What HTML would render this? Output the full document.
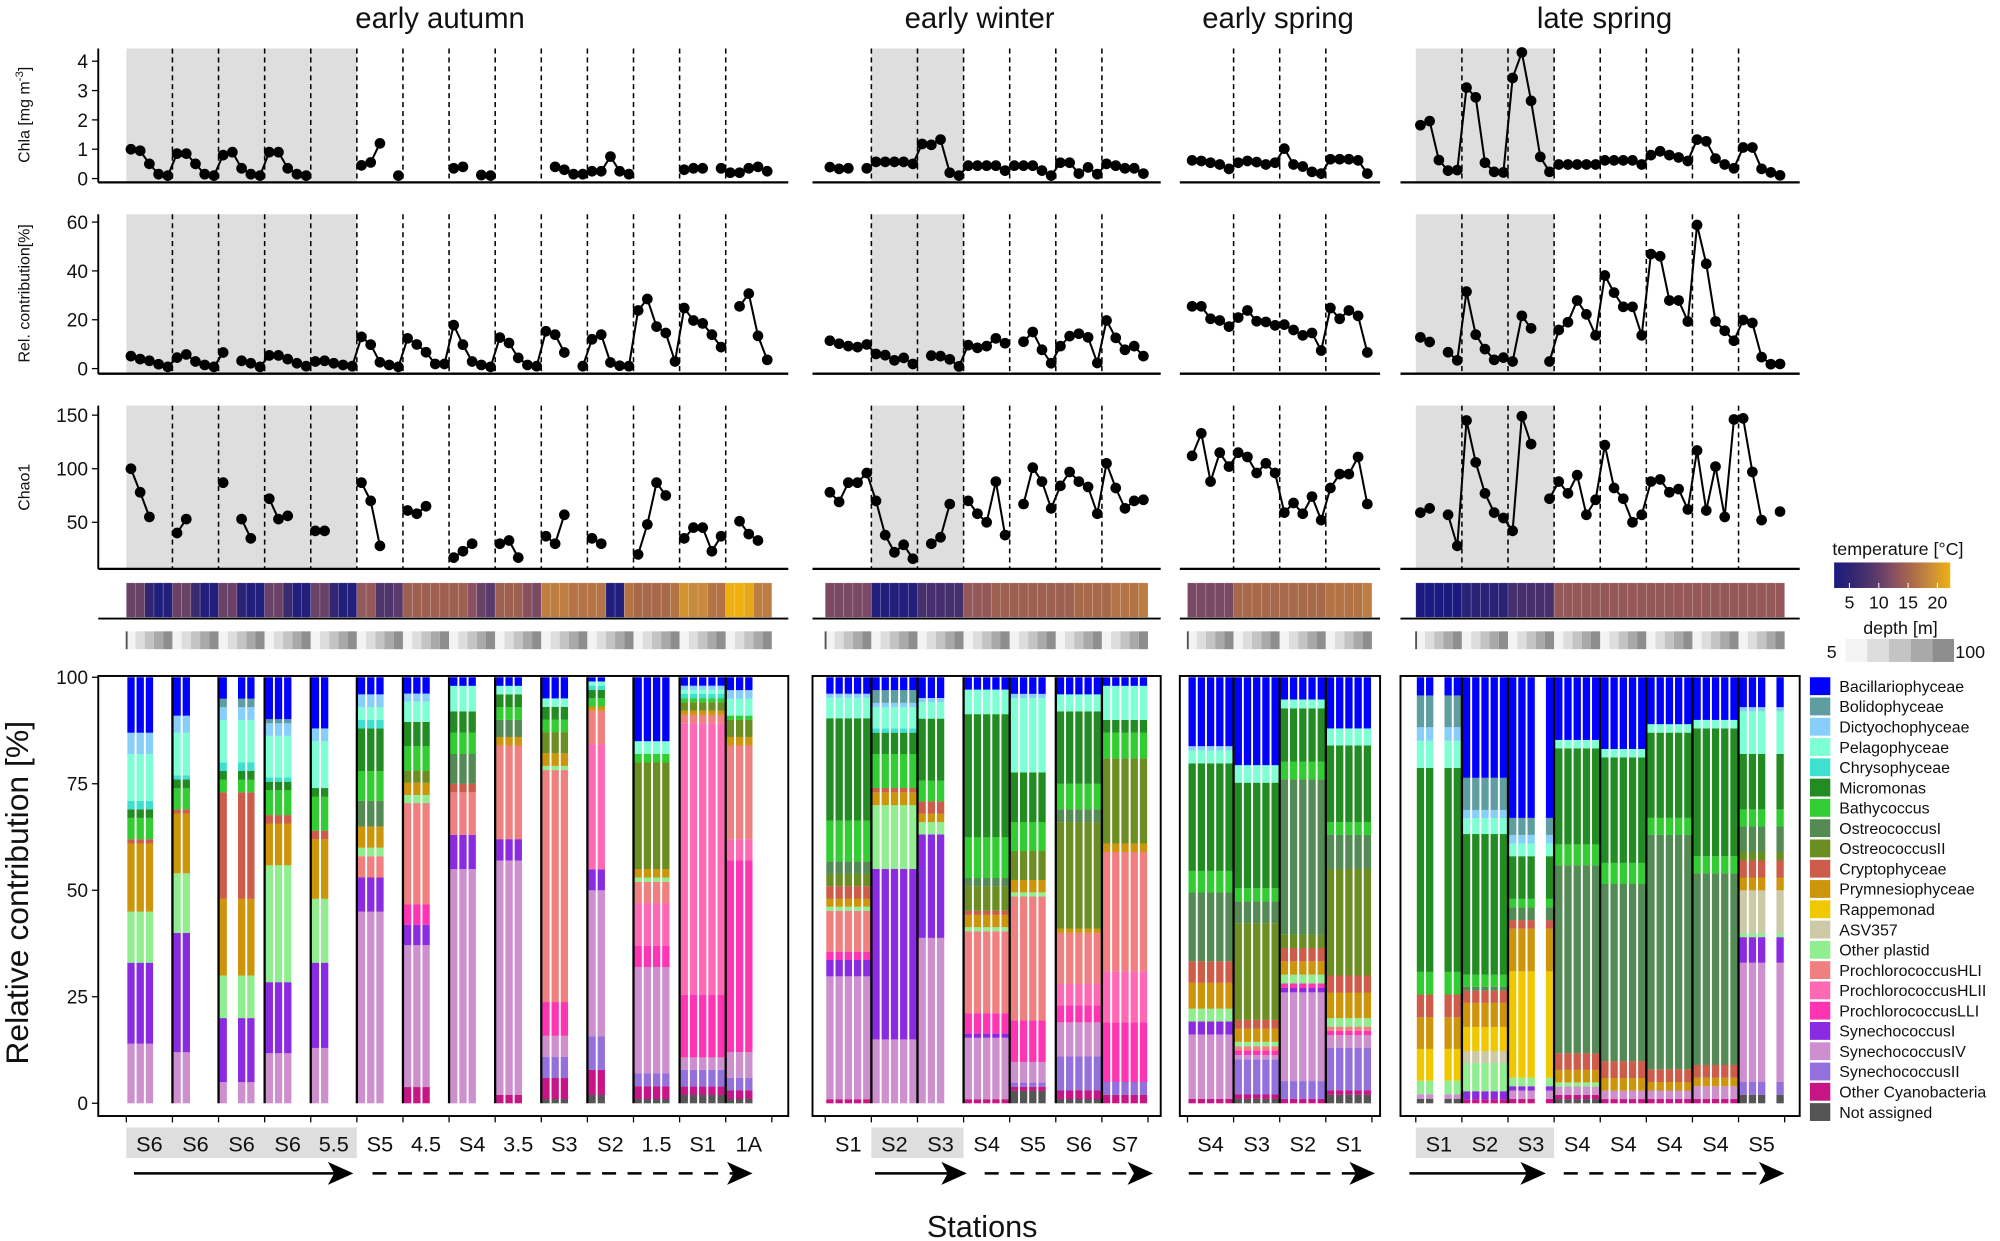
<!DOCTYPE html>
<html><head><meta charset="utf-8"><style>
html,body{margin:0;padding:0;background:#fff;}
svg{display:block;font-family:"Liberation Sans",Arial,sans-serif;}
</style></head><body>
<svg id="fig" xmlns="http://www.w3.org/2000/svg" width="2000" height="1241" viewBox="0 0 1568 973">
<rect x="0" y="0" width="1568" height="973" fill="#fff"/>
<defs>
<linearGradient id="tgrad" x1="0" x2="1" y1="0" y2="0">
<stop offset="0" stop-color="#1a1a80"/><stop offset="0.2" stop-color="#3a2a6e"/><stop offset="0.36" stop-color="#5a3a6a"/><stop offset="0.52" stop-color="#8a5060"/><stop offset="0.66" stop-color="#a8684a"/><stop offset="0.82" stop-color="#c88a3c"/><stop offset="1" stop-color="#f0b010"/>
</linearGradient>
</defs>
</svg>
<script>
// ---------- categories ----------
const catNames = ["Bacillariophyceae","Bolidophyceae","Dictyochophyceae","Pelagophyceae","Chrysophyceae","Micromonas","Bathycoccus","OstreococcusI","OstreococcusII","Cryptophyceae","Prymnesiophyceae","Rappemonad","ASV357","Other plastid","ProchlorococcusHLI","ProchlorococcusHLII","ProchlorococcusLLI","SynechococcusI","SynechococcusIV","SynechococcusII","Other Cyanobacteria","Not assigned"];
const catColors = ["#0000ff","#5f9ea0","#87cefa","#7fffd4","#40e0d0","#228b22","#32cd32","#548b54","#6b8e23","#cd5c4a","#cd950c","#f0c800","#cdc8a5","#90ee90","#f08080","#ff69b4","#ff34b3","#8a2be2","#cd8fcd","#9370db","#c71585","#555555"];
const n = null;

// ---------- early autumn ----------
const autumnStations = ["S6","S6","S6","S6","5.5","S5","4.5","S4","3.5","S3","S2","1.5","S1","1A"];
const autumnChla = [1.0,0.95,0.5,0.15,0.1, 0.85,0.85,0.5,0.15,0.1, 0.8,0.9,0.35,0.15,0.1, 0.9,0.9,0.35,0.15,0.1, n,n,n,n,n, 0.45,0.55,1.2,n,0.1, n,n,n,n,n, 0.35,0.4,n,0.12,0.1, n,n,n,n,n, n,0.4,0.3,0.15,0.15, 0.25,0.25,0.75,0.25,0.15, n,n,n,n,n, 0.3,0.35,0.35,n,0.35, 0.2,0.2,0.35,0.4,0.25];
const autumnRel = [5.1,3.9,3.2,1.8,0.7, 4.5,5.8,2.9,1.5,0.7, 6.6,n,3.2,2.2,0.7, 5.4,5.4,3.9,2.2,1.0, 2.9,3.2,2.2,1.5,1.0, 13,9.8,2.6,1.5,0.7, 12.4,9.9,6.7,1.9,1.9, 17.8,9.8,2.9,1.5,0.7, 12.7,10.5,4.4,1.5,1.0, 15.3,13.9,6.6,n,1.0, 12,13.9,2.5,1.2,1.0, 23.8,28.5,17.2,14.6,2.9, 24.8,19.7,18.5,13.9,8.8, n,25.5,30.7,13.4,3.6];
const autumnChao = [100,78,55,n,n, 40,53,n,n,n, 87,n,53,35,n, 72,53,56,n,n, 42,42,n,n,n, 87,70,28,n,n, 61,58,65,n,n, 17,23,30,n,n, 30,33,17,n,n, 37,30,57,n,n, 35,30,n,n,n, 20,48,87,75,n, 35,45,45,23,37, n,51,39,33,n];
const autumnTemp = [11,11,6,4,4, 11,11,7,4,4, 11,11,5,4,4, 11,11,7,4,4, 11,11,6,4,4, 14,14,9,9,10, 15,15,15,15,15, 15,15,13,11,10, 15,15,15,13,12, 18,18,18,17,17, 17,17,4,4,17, 16,16,16,16,17, 20,19,19,17,17, 23,23,22,18,18];
const autumnMask = [[1,1,1,0,0],[1,1,0,0,0],[1,0,1,1,0],[1,1,1,0,0],[1,1,0,0,0],[1,1,1,0,0],[1,1,1,0,0],[1,1,1,0,0],[1,1,1,0,0],[1,1,1,0,0],[1,1,0,0,0],[1,1,1,1,0],[1,1,1,1,1],[1,1,1,0,0]];
const autumnProfiles = [
 [[18,14],[17,19],[13,12],[10,16],[9,1],[6,5],[5,2],[4,2],[3,11],[2,5],[0,13]],
 [[18,12],[17,28],[13,14],[10,14],[9,1],[6,5],[5,2],[4,1],[3,10],[2,4],[0,9]],
 [[18,5],[17,15],[13,10],[10,18],[9,25],[6,3],[5,2],[4,2],[3,10],[1,2],[2,3],[0,5]],
 [[18,12],[17,17],[13,28],[10,10],[9,2],[6,6],[5,2],[4,1],[3,10],[1,1],[2,3],[0,10]],
 [[18,13],[17,20],[13,15],[10,14],[9,2],[6,8],[5,2],[3,11],[2,3],[0,12]],
 [[18,45],[17,8],[14,5],[13,2],[10,5],[7,6],[6,7],[5,10],[4,2],[3,3],[2,3],[0,4]],
 [[20,4],[18,35],[17,5],[16,5],[14,25],[13,2],[10,3],[8,3],[6,6],[5,6],[3,5],[2,2],[0,4]],
 [[18,55],[17,8],[14,10],[9,2],[7,7],[6,5],[5,5],[3,6],[0,2]],
 [[20,2],[18,55],[17,5],[14,22],[10,2],[7,4],[6,3],[5,3],[3,2],[0,2]],
 [[21,1],[20,5],[19,5],[18,5],[16,8],[14,55],[13,1],[10,3],[8,5],[6,3],[5,3],[3,2],[0,5]],
 [[21,2],[20,6],[19,8],[18,35],[17,5],[15,30],[14,8],[10,1],[6,2],[5,2],[4,1],[3,1],[0,1]],
 [[21,1],[20,3],[19,3],[18,25],[16,5],[15,10],[14,5],[13,1],[10,2],[8,25],[6,2],[3,3],[0,15]],
 [[21,2],[20,2],[19,4],[18,3],[16,15],[15,65],[14,2],[10,1],[8,2],[6,1],[4,1],[3,1],[2,1],[0,2]],
 [[21,1],[20,2],[19,3],[18,6],[16,45],[15,5],[14,22],[10,2],[8,4],[6,1],[3,4],[2,2],[0,3]]
];

// ---------- early winter ----------
const winterStations = ["S1","S2","S3","S4","S5","S6","S7"];
const winterChla = [0.39,0.33,0.35,n,0.35, 0.57,0.57,0.57,0.57,0.5, 1.18,1.15,1.33,0.2,0.1, 0.44,0.44,0.44,0.44,0.27, 0.44,0.44,0.44,0.27,0.1, 0.54,0.54,0.17,0.38,0.15, 0.5,0.44,0.35,0.35,0.17];
const winterRel = [11.4,10.2,9.2,8.8,9.9, 6,5.5,3.4,4.4,1.9, n,5.3,5.1,3.8,0.9, 9.6,8.5,9.2,12.4,10.4, n,11,15,7.7,2.2, 9.2,13.3,14.3,12.8,2.3, 19.7,12.6,7.7,9.2,5.1];
const winterChao = [78,69,87,87,96, 70,38,22,29,16, n,30,36,67,n, 70,58,50,88,38, n,67,101,88,63, 84,97,88,83,58, 105,82,63,70,71];
const winterTemp = [12,12,12,12,12, 4,4,4,4,4, 8,8,8,8,8, 14,14,14,15,15, 15,15,15,15,15, 15,15,16,16,16, 16,17,17,17,18];
const winterMask = [[1,1,1,1,1],[1,1,1,1,1],[1,1,1,0,0],[1,1,1,1,1],[1,1,1,1,0],[1,1,1,1,1],[1,1,1,1,1]];
const winterProfiles = [
 [[20,1],[18,30],[17,4],[16,2],[14,10],[13,1],[10,2],[9,3],[8,3],[7,3],[6,10],[5,25],[3,5],[2,1],[0,4]],
 [[18,15],[17,40],[13,15],[10,3],[9,1],[6,8],[5,5],[4,1],[3,5],[1,3],[2,1],[0,3]],
 [[18,40],[17,25],[13,3],[10,2],[9,3],[6,5],[5,15],[3,4],[2,1],[0,5]],
 [[20,1],[18,15],[17,1],[16,5],[14,20],[13,1],[10,3],[9,1],[8,6],[7,2],[6,10],[5,30],[3,6],[0,3]],
 [[21,3],[20,1],[19,1],[18,5],[16,10],[14,30],[13,1],[10,3],[8,7],[6,7],[5,12],[3,18],[2,1],[0,4]],
 [[21,1],[20,2],[19,8],[18,8],[16,4],[15,5],[14,12],[10,1],[8,25],[7,3],[6,6],[5,17],[3,4],[0,4]],
 [[20,2],[19,3],[16,14],[15,12],[14,28],[10,2],[8,20],[6,6],[5,3],[3,8],[0,2]]
];

// ---------- early spring ----------
const springStations = ["S4","S3","S2","S1"];
const springChla = [0.62,0.6,0.54,0.48,0.33, 0.54,0.6,0.56,0.48,0.54, 1.02,0.48,0.41,0.23,0.17, 0.66,0.66,0.66,0.62,0.17];
const springRel = [25.5,25.5,20.4,19.7,17.2, 20.9,23.8,19.4,19.1,17.7, 18,15.8,13.6,14.6,7.4, 24.8,20.4,23.8,21.6,6.6];
const springChao = [112,133,88,115,102, 115,111,96,105,96, 59,68,58,74,52, 82,95,95,111,67];
const springTemp = [12,12,12,12,12, 16,16,16,16,16, 16,16,16,16,16, 17,17,17,17,18];
const springMask = [[1,1,1,1,1],[1,1,1,1,1],[1,1,1,1,1],[1,1,1,1,1]];
const springProfiles = [
 [[20,1],[18,15],[17,3],[13,3],[10,6],[9,5],[7,16],[6,5],[5,25],[3,3],[2,1],[0,16]],
 [[21,1],[20,1],[19,8],[18,1],[16,1],[14,1],[13,1],[10,3],[9,2],[8,22],[7,5],[6,3],[5,24],[3,4],[0,20]],
 [[20,1],[19,4],[18,20],[17,1],[16,1],[13,2],[10,3],[9,3],[8,3],[7,35],[6,4],[5,12],[3,2],[0,5]],
 [[21,2],[20,1],[19,10],[18,3],[16,1],[14,1],[13,2],[10,6],[9,4],[8,25],[7,8],[6,3],[5,18],[3,4],[0,12]]
];

// ---------- late spring ----------
const lateStations = ["S1","S2","S3","S4","S4","S4","S4","S5"];
const lateChla = [1.82,1.96,0.63,0.27,0.29, 3.1,2.77,0.54,0.23,0.21, 3.43,4.3,2.65,0.74,0.23, 0.48,0.48,0.48,0.48,0.48, 0.62,0.62,0.62,0.62,0.48, 0.8,0.93,0.8,0.72,0.6, 1.33,1.27,0.68,0.48,0.35, 1.06,1.06,0.33,0.21,0.11];
const lateRel = [12.8,10.9,n,6.7,3.4, 31.5,13.9,8,3.6,4.5, 2.9,21.6,16.5,n,2.9, 15.8,19,27.9,22.2,13.6, 38.1,31.1,25.3,25.3,13.6, 46.9,46,27.9,27.9,19.3, 58.8,42.9,19.3,15.5,11.4, 19.9,18.7,4.7,1.8,1.9];
const lateChao = [59,63,n,57,28, 145,106,77,59,54, 42,149,123,n,72, 88,77,94,57,71, 122,82,72,50,57, 88,90,78,81,62, 117,61,102,55,146, 147,97,52,n,60];
const lateTemp = [3,3,3,3,3, 5,5,5,5,5, 8,8,8,8,8, 14,14,14,14,14, 14,14,14,14,14, 14,14,14,14,14, 14,14,14,14,14, 14,14,14,14,14];
const lateMask = [[1,1,0,1,1],[1,1,1,1,1],[1,1,1,0,1],[1,1,1,1,1],[1,1,1,1,1],[1,1,1,1,1],[1,1,1,1,1],[1,1,1,0,1]];
const lateProfiles = [
 [[21,1],[18,1],[13,3],[11,7],[10,7],[9,5],[6,5],[5,45],[3,6],[2,3],[1,7],[0,4]],
 [[20,1],[17,2],[13,7],[12,3],[11,6],[10,6],[9,3],[7,1],[6,3],[5,35],[3,4],[2,2],[1,8],[0,25]],
 [[20,1],[18,2],[17,1],[13,2],[11,25],[10,10],[9,2],[7,3],[6,2],[5,10],[3,3],[2,2],[1,4],[0,33]],
 [[21,1],[20,1],[18,2],[13,1],[10,3],[9,4],[7,45],[6,5],[5,23],[3,2],[0,15]],
 [[20,1],[18,2],[10,3],[9,4],[7,42],[6,5],[5,25],[3,2],[0,17]],
 [[20,1],[18,2],[10,2],[9,3],[7,55],[6,4],[5,20],[3,2],[0,11]],
 [[20,1],[18,3],[10,2],[9,3],[7,45],[6,4],[5,30],[3,2],[0,10]],
 [[21,2],[19,3],[18,28],[17,6],[13,1],[12,10],[10,3],[9,4],[8,2],[7,6],[6,4],[5,13],[3,10],[2,1],[0,7]]
];

// ---------- axis functions ----------
const W = 36.15, SL = W/5;
const yChla = v => 140 - v*23;
const yRel = v => 289 - v*1.915;
const yChao = v => 451.5 - v*0.84;
const yBar = v => 865 - v*3.34;
const PT = {chla:[38,143], rel:[168,293], chao:[318,446]};

const svg = document.getElementById('fig');
const NS = 'http://www.w3.org/2000/svg';
function mk(tag, attrs, parent){ const e=document.createElementNS(NS,tag); for(const k in attrs) e.setAttribute(k,attrs[k]); (parent||svg).appendChild(e); return e; }
function txt(s, attrs, parent){ const e=mk('text',attrs,parent); e.textContent=s; return e; }

function tempColor(t){
  const stops=[[3,[26,26,128]],[7,[58,42,110]],[10,[90,58,106]],[13,[138,80,96]],[16,[168,104,74]],[19,[200,138,60]],[23,[240,176,16]]];
  if(t<=stops[0][0]) return 'rgb('+stops[0][1].join(',')+')';
  for(let i=1;i<stops.length;i++){ if(t<=stops[i][0]){ const a=stops[i-1],b=stops[i],f=(t-a[0])/(b[0]-a[0]); return 'rgb('+a[1].map((c,k)=>Math.round(c+(b[1][k]-c)*f)).join(',')+')'; } }
  return 'rgb(240,176,16)';
}
const depthGrays = ['#f3f3f3','#dddddd','#c4c4c4','#a9a9a9','#8e8e8e'];

function drawSeason(name, x0, axL, axR, stations, gray, chla, rel, chao, temp, mask, profiles, title, titleX){
  const g = mk('g',{});
  
  
  const t = txt(title,{x:titleX,y:22,'font-size':23,'text-anchor':'middle',fill:'#111'},g);
  
  
  const ns = stations.length;
  // top panels
  const metrics = [['chla',chla,yChla],['rel',rel,yRel],['chao',chao,yChao]];
  metrics.forEach(([key,arr,yf])=>{
    const [top,base] = PT[key];
    const pg = mk('g',{},g);
    
    
    if(gray) mk('rect',{x:x0+gray[0]*W,y:top,width:(gray[1]-gray[0])*W,height:base-top,fill:'#dedede'},pg);
    for(let s=1;s<ns;s++) mk('line',{x1:x0+s*W,x2:x0+s*W,y1:top,y2:base,stroke:'#000','stroke-width':1.2,'stroke-dasharray':'4,3'},pg);
    mk('line',{x1:axL,x2:axR,y1:base,y2:base,stroke:'#000','stroke-width':1.8},pg);
    for(let i=0;i<arr.length-1;i++){
      if(arr[i]!=null && arr[i+1]!=null){
        mk('line',{x1:x0+(i+0.5)*SL,y1:yf(arr[i]),x2:x0+(i+1.5)*SL,y2:yf(arr[i+1]),stroke:'#000','stroke-width':1.6},pg);
      }
    }
    arr.forEach((v,i)=>{ if(v==null) return;
      const c = mk('circle',{cx:x0+(i+0.5)*SL,cy:yf(v),r:4.2,fill:'#000'},pg);
      
      
    });
  });
  // temperature strip
  const tg = mk('g',{},g);
  
  
  temp.forEach((v,i)=>{ mk('rect',{x:x0+i*SL,y:457,width:SL,height:27,fill:tempColor(v),stroke:'rgba(255,255,255,0.25)','stroke-width':0.5},tg); });
  mk('line',{x1:axL,x2:axR,y1:485,y2:485,stroke:'#000','stroke-width':1.5},tg);
  // depth strip
  const dg = mk('g',{},g);
  
  
  for(let s=0;s<ns;s++) for(let j=0;j<5;j++) mk('rect',{x:x0+s*W+j*SL,y:495,width:SL,height:14,fill:depthGrays[j]},dg);
  mk('rect',{x:x0-0.5,y:495,width:1.5,height:14,fill:'#555'},dg);
  // bar panel box
  const bg = mk('g',{},g);
  
  
  mk('rect',{x:axL,y:530,width:axR-axL,height:345,fill:'none',stroke:'#000','stroke-width':1.5},bg);
  for(let s=0;s<ns;s++){
    const prof = profiles[s];
    const tot = prof.reduce((a,p)=>a+p[1],0);
    const vals = new Array(22).fill(0);
    prof.forEach(p=>{vals[p[0]]+=p[1]*100/tot;});
    for(let j=0;j<5;j++){
      if(!mask[s][j]) continue;
      const bx = x0+s*W+j*SL+0.8;
      let cum = 0;
      for(let c=21;c>=0;c--){
        if(vals[c]<=0) continue;
        const r = mk('rect',{x:bx,y:yBar(cum+vals[c]),width:SL-1.5,height:yBar(cum)-yBar(cum+vals[c])+0.05,fill:catColors[c]},bg);
        
        
        cum += vals[c];
      }
    }
  }
  for(let s=1;s<ns;s++) mk('line',{x1:x0+s*W,x2:x0+s*W,y1:531,y2:865,stroke:'#000','stroke-width':1.8},bg);
  // station labels
  for(let s=0;s<=ns;s++) mk('line',{x1:x0+s*W,x2:x0+s*W,y1:875,y2:880,stroke:'#000','stroke-width':1},g);
  if(gray) mk('rect',{x:x0+gray[0]*W,y:884,width:(gray[1]-gray[0])*W,height:24,fill:'#dedede'},g);
  stations.forEach((lab,s)=>{
    const e = txt(lab,{x:x0+(s+0.5)*W,y:903,'font-size':17,'text-anchor':'middle',fill:'#111'},g);
    
    
  });
}

drawSeason('early-autumn',99,77,618,autumnStations,[0,5],autumnChla,autumnRel,autumnChao,autumnTemp,autumnMask,autumnProfiles,'early autumn',345);
drawSeason('early-winter',647,637,910,winterStations,[1,3],winterChla,winterRel,winterChao,winterTemp,winterMask,winterProfiles,'early winter',768);
drawSeason('early-spring',931,925,1082,springStations,null,springChla,springRel,springChao,springTemp,springMask,springProfiles,'early spring',1002);
drawSeason('late-spring',1110,1098,1411,lateStations,[0,3],lateChla,lateRel,lateChao,lateTemp,lateMask,lateProfiles,'late spring',1258);

// ---------- left axes ----------
const ax = mk('g',{});


const chlaTicks=[0,1,2,3,4], relTicks=[0,20,40,60], chaoTicks=[50,100,150], barTicks=[0,25,50,75,100];
mk('line',{x1:77,x2:77,y1:38,y2:143,stroke:'#000','stroke-width':1.5},ax);
mk('line',{x1:77,x2:77,y1:168,y2:293,stroke:'#000','stroke-width':1.5},ax);
mk('line',{x1:77,x2:77,y1:318,y2:446,stroke:'#000','stroke-width':1.5},ax);
function ticks(arr,yf,fs){ arr.forEach(v=>{ mk('line',{x1:72,x2:77,y1:yf(v),y2:yf(v),stroke:'#000','stroke-width':1},ax); const e=txt(String(v),{x:69,y:yf(v)+fs*0.36,'font-size':fs,'text-anchor':'end',fill:'#111'},ax);   }); }
ticks(chlaTicks,yChla,15); ticks(relTicks,yRel,15); ticks(chaoTicks,yChao,15); ticks(barTicks,yBar,15);
function vlab(s,x,y,fs,nm){ const e=txt(s,{x:x,y:y,'font-size':fs,'text-anchor':'middle',fill:'#111',transform:'rotate(-90 '+x+' '+y+')'},ax);   return e; }
const cl = vlab('',23,90,12.5,'chla-axis-title'); cl.textContent='Chla [mg m'; const sup=mk('tspan',{dy:-5,'font-size':9},cl); sup.textContent='-3'; const cb=mk('tspan',{dy:5},cl); cb.textContent=']';
vlab('Rel. contribution[%]',23,230,12.5,'rel-axis-title');
vlab('Chao1',23,382,12.5,'chao-axis-title');
vlab('Relative contribution [%]',22,700,25,'bar-y-axis-title');
const xt = txt('Stations',{x:770,y:970,'font-size':24,'text-anchor':'middle',fill:'#111'});



// ---------- arrows ----------
function arrow(x1,x2,dashed,nm){
  const g=mk('g',{});  
  mk('line',{x1:x1,x2:x2-14,y1:920,y2:920,stroke:'#000','stroke-width':2,'stroke-dasharray':dashed?'11,9':'none'},g);
  mk('polygon',{points:(x2-20)+',911 '+x2+',920 '+(x2-20)+',929 '+(x2-15)+',920',fill:'#000'},g);
}
arrow(105,277,false,'autumn-solid-arrow'); arrow(292,590,true,'autumn-dashed-arrow');
arrow(686,758,false,'winter-solid-arrow'); arrow(772,904,true,'winter-dashed-arrow');
arrow(932,1078,true,'spring-dashed-arrow');
arrow(1105,1212,false,'late-solid-arrow'); arrow(1226,1399,true,'late-dashed-arrow');

// ---------- legends ----------
const lg = mk('g',{});


txt('temperature [°C]',{x:1488,y:435,'font-size':14,'text-anchor':'middle',fill:'#111'},lg);
mk('rect',{x:1438,y:441,width:91,height:20,fill:'url(#tgrad)'},lg);
const tempTicks=[5,10,15,20];
tempTicks.forEach(v=>{ const x=1450+(v-5)*4.6; mk('line',{x1:x,x2:x,y1:457,y2:461,stroke:'#fff','stroke-width':0.8},lg); txt(String(v),{x:x,y:477,'font-size':14,'text-anchor':'middle',fill:'#111'},lg); });
const dl = mk('g',{});


txt('depth [m]',{x:1490,y:497,'font-size':14,'text-anchor':'middle',fill:'#111'},dl);
depthGrays.forEach((c,i)=>mk('rect',{x:1447+i*17,y:501,width:17,height:18,fill:c},dl));
txt('5',{x:1440,y:516,'font-size':14,'text-anchor':'end',fill:'#111'},dl);
txt('100',{x:1533,y:516,'font-size':14,fill:'#111'},dl);
const cg = mk('g',{});


catNames.forEach((nm,i)=>{
  const y=531+i*15.9;
  const e=mk('g',{},cg);
  
  
  mk('rect',{x:1419,y:y,width:16,height:14,fill:catColors[i]},e);
  txt(nm,{x:1442,y:y+11.5,'font-size':12.5,fill:'#111'},e);
});
</script>
</body></html>
